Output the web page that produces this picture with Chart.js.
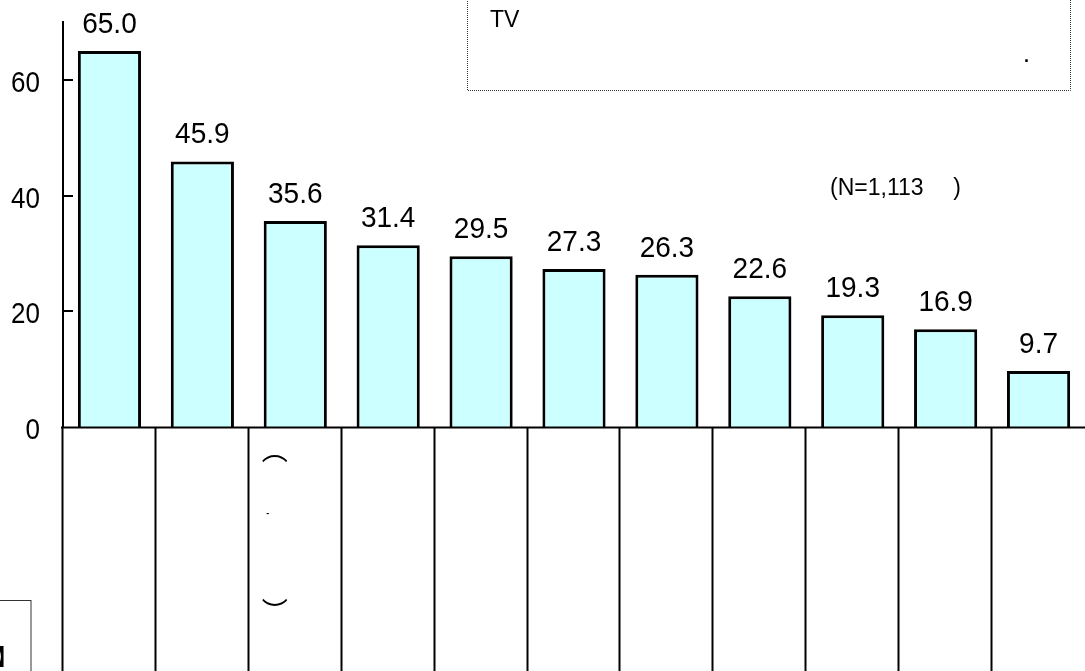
<!DOCTYPE html>
<html>
<head>
<meta charset="utf-8">
<script src="https://cdn.jsdelivr.net/npm/chart.js@4/dist/chart.umd.min.js"></script>
<style>
  html, body { margin: 0; padding: 0; background: #ffffff; }
  #wrap { width: 1085px; height: 671px; position: relative; }
</style>
</head>
<body>
<div id="wrap"><canvas id="c" width="1085" height="671"></canvas></div>
<script>
const categories = ["1", "2", "3", "4", "5", "6", "7", "8", "9", "10", "11"];
const values = [65.0, 45.9, 35.6, 31.4, 29.5, 27.3, 26.3, 22.6, 19.3, 16.9, 9.7];
const yTickValues = [0, 20, 40, 60];
const yTickLabels = ["0", "20", "40", "60"];
const noteText = "TV";
const noteDot = ".";
const sampleText = "(N=1,113";
const sampleClose = ")";
const col3Glyphs = ["\uFE35", "-", "\uFE36"];
const cornerText = "\u3011";

const FONT = "'Liberation Sans', Arial, sans-serif";

function stretchedText(ctx, txt, x, y, sy) {
  ctx.save();
  ctx.translate(x, y);
  ctx.scale(1, sy);
  ctx.fillText(txt, 0, 0);
  ctx.restore();
}

const overlay = {
  id: 'overlay',
  afterDatasetsDraw(chart) {
    const ctx = chart.ctx;
    const xs = chart.scales.x, ys = chart.scales.y;
    const a = chart.chartArea;
    const H = chart.height;
    ctx.save();
    ctx.strokeStyle = '#000';
    ctx.fillStyle = '#000';
    ctx.lineWidth = 2;
    // inward tick marks and tick labels
    ctx.font = '26px ' + FONT;
    ctx.textAlign = 'right';
    ctx.textBaseline = 'middle';
    yTickValues.forEach((v, i) => {
      const y = Math.round(ys.getPixelForValue(v));
      stretchedText(ctx, yTickLabels[i], 40, y + 4, 1.15);
      if (v === 0) return;
      ctx.beginPath();
      ctx.moveTo(a.left, y);
      ctx.lineTo(a.left + 10, y);
      ctx.stroke();
    });
    // x axis line
    const yb = Math.round(ys.getPixelForValue(0)) + 0.5;
    ctx.beginPath();
    ctx.moveTo(a.left - 2, yb);
    ctx.lineTo(a.right, yb);
    ctx.stroke();
    // category dividers in table region
    const n = categories.length;
    const w = (a.right - a.left) / n;
    for (let i = 0; i < n; i++) {
      const x = Math.round(xs.getPixelForValue(i) - w / 2) - 0.5;
      ctx.beginPath();
      ctx.moveTo(x, yb);
      ctx.lineTo(x, H);
      ctx.stroke();
    }
    // value labels
    const meta = chart.getDatasetMeta(0);
    ctx.font = '28px ' + FONT;
    ctx.textAlign = 'center';
    ctx.textBaseline = 'alphabetic';
    meta.data.forEach((bar, i) => {
      stretchedText(ctx, values[i].toFixed(1), bar.x, bar.y - 18, 1.08);
    });
    // column 3 glyphs
    const c3 = xs.getPixelForValue(2) - w / 2;
    ctx.font = "26px 'Noto Sans CJK JP', sans-serif";
    ctx.textAlign = 'center';
    ctx.textBaseline = 'middle';
    ctx.fillText(col3Glyphs[0], c3 + 26, 450);
    ctx.fillText(col3Glyphs[2], c3 + 26, 611);
    ctx.font = "bold 9px " + FONT;
    ctx.fillText(col3Glyphs[1], c3 + 19, 514);
    // top-right dotted box
    ctx.lineWidth = 1;
    ctx.strokeStyle = '#333';
    ctx.setLineDash([1, 1]);
    ctx.strokeRect(467.5, -5, 603, 95.5);
    ctx.setLineDash([]);
    ctx.font = '23px ' + FONT;
    ctx.textAlign = 'left';
    ctx.textBaseline = 'alphabetic';
    ctx.fillText(noteText, 490, 27);
    ctx.font = 'bold 18px ' + FONT;
    ctx.fillText(noteDot, 1024, 62);
    // N text
    ctx.font = '23px ' + FONT;
    ctx.fillText(sampleText, 830, 195);
    ctx.textAlign = 'right';
    ctx.fillText(sampleClose, 961, 195);
    // bottom-left box
    ctx.strokeStyle = '#333';
    ctx.lineWidth = 1;
    ctx.strokeRect(-2, 600.5, 33, 80);
    ctx.font = "900 22px 'Noto Sans CJK JP', sans-serif";
    ctx.textAlign = 'left';
    ctx.textBaseline = 'middle';
    ctx.fillText(cornerText, -4, 656);
    ctx.restore();
  }
};

new Chart(document.getElementById('c'), {
  type: 'bar',
  data: {
    labels: categories,
    datasets: [{
      data: values,
      backgroundColor: '#CCFFFF',
      borderColor: '#000',
      borderWidth: 3,
      categoryPercentage: 1.0,
      barPercentage: 0.68
    }]
  },
  options: {
    responsive: false,
    animation: false,
    devicePixelRatio: 1,
    layout: { padding: { top: 22, left: 0, right: 0, bottom: 0 } },
    plugins: { legend: { display: false }, tooltip: { enabled: false } },
    scales: {
      x: {
        offset: true,
        grid: { display: false },
        border: { display: false },
        ticks: { display: false },
        afterFit(s) { s.height = 244; }
      },
      y: {
        min: 0,
        max: 70,
        grid: { display: false },
        border: { display: true, color: '#000', width: 2 },
        ticks: { display: false },
        afterBuildTicks(s) { s.ticks = yTickValues.map(v => ({ value: v })); },
        afterFit(s) { s.width = 63; }
      }
    }
  },
  plugins: [overlay]
});
</script>
</body>
</html>
